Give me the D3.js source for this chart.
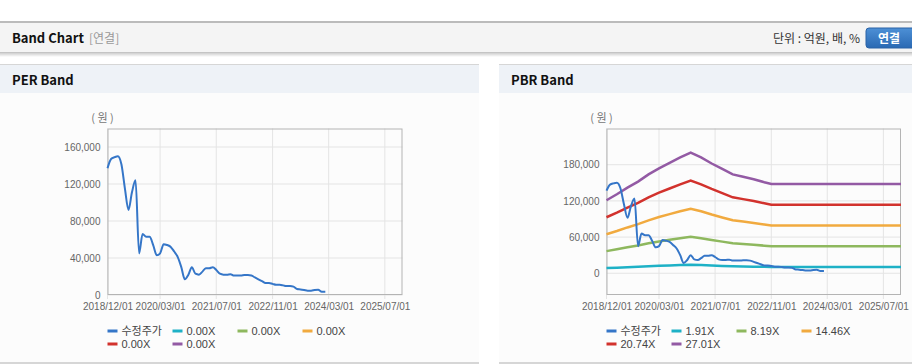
<!DOCTYPE html>
<html>
<head>
<meta charset="utf-8">
<script src="https://cdn.jsdelivr.net/npm/d3@7"></script>
<style>
  body { margin: 0; background: #fff; }
  svg { display: block; }
  .tick text { font-family: "Liberation Sans", Arial, sans-serif; font-size: 10px; fill: #666; }
  .legend text { font-family: "Liberation Sans", "Noto Sans CJK KR", sans-serif; font-size: 11px; fill: #444; }
  .kr { font-family: "Noto Sans CJK KR", sans-serif; }
</style>
</head>
<body>
<div id="chart"></div>
<script>
// monthly adjusted price (won), 2018/12 .. 2024/02
const priceStart = '2018/12/01'
const priceValues = [
  137000, 147000, 149000, 150000, 141000, 115000, 92000, 111000, 124000, 45000, 66000, 63000, 63000,
  54000, 43000, 45000, 55000, 54000, 52000, 47000, 41000, 30000, 17000, 22000, 30000,
  23000, 22000, 25000, 29000, 29000, 30000, 27000, 23000, 22000, 22000, 22500, 21000,
  21000, 21000, 21500, 21500, 21000, 19000, 17000, 15000, 13000, 13000, 12000, 11000,
  11000, 10400, 9700, 9700, 9000, 6400, 6000, 5400, 4700, 4700, 5400, 5700,
  3600, 3600
]

// PBR band points
const bandDates = ['2018/12/01', '2019/03/01', '2019/06/01', '2019/09/01', '2019/12/01', '2020/03/01',
  '2020/06/01', '2020/09/01', '2020/12/01', '2021/03/01', '2021/06/01', '2021/09/01', '2021/12/01',
  '2022/03/01', '2022/06/01', '2022/09/01', '2022/11/01', '2025/12/01']
const pbr191 = [8600, 9300, 10000, 10700, 11600, 12300, 12900, 13600, 14100, 13600, 12900, 12200, 11600, 11300, 11000, 10700, 10500, 10500]
const pbr819 = [36700, 39700, 43100, 46100, 49700, 52800, 55500, 58200, 60600, 58200, 55200, 52500, 49700, 48500, 47300, 45800, 44900, 44900]
const pbr1446 = [64800, 70100, 76000, 81400, 87800, 93200, 98000, 102800, 107100, 102800, 97400, 92600, 87800, 85700, 83500, 80800, 79200, 79200]
const pbr2074 = [92900, 100600, 109000, 116700, 125900, 133600, 140500, 147400, 153600, 147400, 139800, 132800, 125900, 122900, 119800, 116000, 113600, 113600]
const pbr2701 = [121000, 131000, 142000, 152000, 164000, 174000, 183000, 192000, 200000, 192000, 182000, 173000, 164000, 160000, 156000, 151000, 148000, 148000]

const xTickLabels = ['2018/12/01', '2020/03/01', '2021/07/01', '2022/11/01', '2024/03/01', '2025/07/01']
const perTicks = [0, 40000, 80000, 120000, 160000]
const pbrTicks = [0, 60000, 120000, 180000]
const perLegend = ['수정주가', '0.00X', '0.00X', '0.00X', '0.00X', '0.00X']
const pbrLegend = ['수정주가', '1.91X', '8.19X', '14.46X', '20.74X', '27.01X']
const colors = ['#3576c8', '#1eb1c6', '#8eb85e', '#f1aa3f', '#d2322d', '#935aa4']

const parse = d3.timeParse('%Y/%m/%d')

class BandChart {

    constructor(cfg, price, bands) {
        this.config = cfg
        this.price = price
        this.bands = bands
        this.initVis()
    }

    initVis() {
        let vis = this
        let c = vis.config

        vis.xScale = d3.scaleTime()
            .domain([parse('2018/12/01'), parse('2025/12/01')])
            .range([c.left, c.right])

        vis.yScale = d3.scaleLinear()
            .domain(c.yDomain)
            .range([c.bottom, c.top])

        vis.g = c.svg.append('g')

        // grid
        vis.g.append('g')
            .selectAll('line.vg')
            .data(xTickLabels.map(parse))
            .join('line')
            .attr('x1', d => vis.xScale(d)).attr('x2', d => vis.xScale(d))
            .attr('y1', c.top).attr('y2', c.bottom + 4)
            .attr('stroke', '#e4e4e4')

        vis.g.append('g')
            .selectAll('line.hg')
            .data(c.yTicks)
            .join('line')
            .attr('x1', c.left).attr('x2', c.right)
            .attr('y1', d => vis.yScale(d)).attr('y2', d => vis.yScale(d))
            .attr('stroke', '#e4e4e4')

        vis.g.append('rect')
            .attr('x', c.left + 0.5).attr('y', c.top + 0.5)
            .attr('width', c.right - c.left - 1).attr('height', c.bottom - c.top - 1)
            .attr('fill', 'none')
            .attr('stroke', '#b4b4b4')

        vis.xAxis = d3.axisBottom(vis.xScale)
            .tickValues(xTickLabels.map(parse))
            .tickFormat(d3.timeFormat('%Y/%m/%d'))
            .tickSize(0)
            .tickPadding(8)

        vis.yAxis = d3.axisLeft(vis.yScale)
            .tickValues(c.yTicks)
            .tickFormat(d3.format(','))
            .tickSize(0)
            .tickPadding(7)

        vis.g.append('g')
            .attr('transform', `translate(0,${c.bottom})`)
            .call(vis.xAxis)
            .call(g => g.select('.domain').remove())

        vis.g.append('g')
            .attr('transform', `translate(${c.left},0)`)
            .call(vis.yAxis)
            .call(g => g.select('.domain').remove())

        vis.g.append('text')
            .attr('class', 'kr')
            .attr('x', c.left - 5)
            .attr('y', c.top - 7)
            .attr('text-anchor', 'middle')
            .attr('font-size', 11)
            .attr('fill', '#777')
            .text('( 원 )')

        vis.renderVis()
    }

    renderVis() {
        let vis = this
        let c = vis.config

        let line = d3.line()
            .x(d => vis.xScale(d.date))
            .y(d => vis.yScale(d.value))

        vis.bands.forEach((b, i) => {
            if (!b.length) return
            vis.g.append('path')
                .datum(bandDates.map((d, j) => ({date: parse(d), value: b[j]})))
                .attr('fill', 'none')
                .attr('stroke', colors[i + 1])
                .attr('stroke-width', 2.5)
                .attr('d', line)
        })

        let months = d3.timeMonth.range(parse(priceStart), d3.timeMonth.offset(parse(priceStart), vis.price.length))
        vis.g.append('path')
            .datum(months.map((m, j) => ({date: m, value: vis.price[j]})))
            .attr('fill', 'none')
            .attr('stroke', colors[0])
            .attr('stroke-width', 2)
            .attr('d', line.curve(d3.curveMonotoneX))

        // legend
        let leg = vis.g.append('g').attr('class', 'legend')
        c.legend.forEach((t, i) => {
            let lx = c.left + (i % 4) * 65
            let ly = 331 + Math.floor(i / 4) * 13
            leg.append('line')
                .attr('x1', lx).attr('x2', lx + 10)
                .attr('y1', ly).attr('y2', ly)
                .attr('stroke', colors[i]).attr('stroke-width', 3)
            leg.append('text')
                .attr('x', lx + 14)
                .attr('y', ly + 4)
                .attr('class', i == 0 ? 'kr' : null)
                .text(t)
        })
    }
}

const svg = d3.select('#chart').append('svg')
    .attr('width', 912)
    .attr('height', 364)

// page header
const defs = svg.append('defs')
const sh = defs.append('linearGradient').attr('id', 'shadow').attr('x1', 0).attr('x2', 0).attr('y1', 0).attr('y2', 1)
sh.append('stop').attr('offset', 0).attr('stop-color', '#cfcfcf')
sh.append('stop').attr('offset', 1).attr('stop-color', '#ffffff')
const bt = defs.append('linearGradient').attr('id', 'btn').attr('x1', 0).attr('x2', 0).attr('y1', 0).attr('y2', 1)
bt.append('stop').attr('offset', 0).attr('stop-color', '#4d90d6')
bt.append('stop').attr('offset', 1).attr('stop-color', '#2a69b3')

svg.append('rect').attr('x', 0).attr('y', 21).attr('width', 912).attr('height', 2).attr('fill', '#bbbbbb')
svg.append('rect').attr('x', 0).attr('y', 23).attr('width', 912).attr('height', 29).attr('fill', '#f4f4f4')
svg.append('rect').attr('x', 0).attr('y', 52).attr('width', 912).attr('height', 1).attr('fill', '#c4c4c4')
svg.append('rect').attr('x', 0).attr('y', 53).attr('width', 912).attr('height', 4).attr('fill', 'url(#shadow)')

svg.append('text').attr('class', 'kr').attr('x', 12).attr('y', 43)
    .attr('font-size', 13).attr('font-weight', 'bold').attr('fill', '#111').text('Band Chart')
svg.append('text').attr('class', 'kr').attr('x', 89).attr('y', 43)
    .attr('font-size', 12).attr('fill', '#999').text('[연결]')
svg.append('text').attr('class', 'kr').attr('x', 860).attr('y', 43).attr('text-anchor', 'end')
    .attr('font-size', 12).attr('fill', '#333').text('단위 : 억원, 배, %')
svg.append('rect').attr('x', 866).attr('y', 28).attr('width', 52).attr('height', 20).attr('rx', 3)
    .attr('fill', 'url(#btn)').attr('stroke', '#2a62a6')
svg.append('text').attr('class', 'kr').attr('x', 889).attr('y', 43).attr('text-anchor', 'middle')
    .attr('font-size', 12).attr('font-weight', 'bold').attr('fill', '#fff').text('연결')

// panels
function panel(x0, w, title) {
    svg.append('rect').attr('x', x0).attr('y', 64).attr('width', w).attr('height', 1).attr('fill', '#d6d6d6')
    svg.append('rect').attr('x', x0).attr('y', 65).attr('width', w).attr('height', 28).attr('fill', '#eef2f7')
    svg.append('rect').attr('x', x0).attr('y', 93).attr('width', w).attr('height', 269).attr('fill', '#fcfcfc')
    svg.append('rect').attr('x', x0).attr('y', 362).attr('width', w).attr('height', 2).attr('fill', '#d6d6d6')
    svg.append('text').attr('class', 'kr').attr('x', x0 + 12).attr('y', 85)
        .attr('font-size', 13).attr('font-weight', 'bold').attr('fill', '#111').text(title)
}
panel(0, 479, 'PER Band')
panel(499, 413, 'PBR Band')

new BandChart({svg: svg, left: 107.5, right: 402.5, top: 128.5, bottom: 295,
    yDomain: [0, 180000], yTicks: perTicks, legend: perLegend},
    priceValues, [[], [], [], [], []])

new BandChart({svg: svg, left: 606.5, right: 901, top: 128.5, bottom: 295,
    yDomain: [-36000, 240000], yTicks: pbrTicks, legend: pbrLegend},
    priceValues, [pbr191, pbr819, pbr1446, pbr2074, pbr2701])
</script>
</body>
</html>
